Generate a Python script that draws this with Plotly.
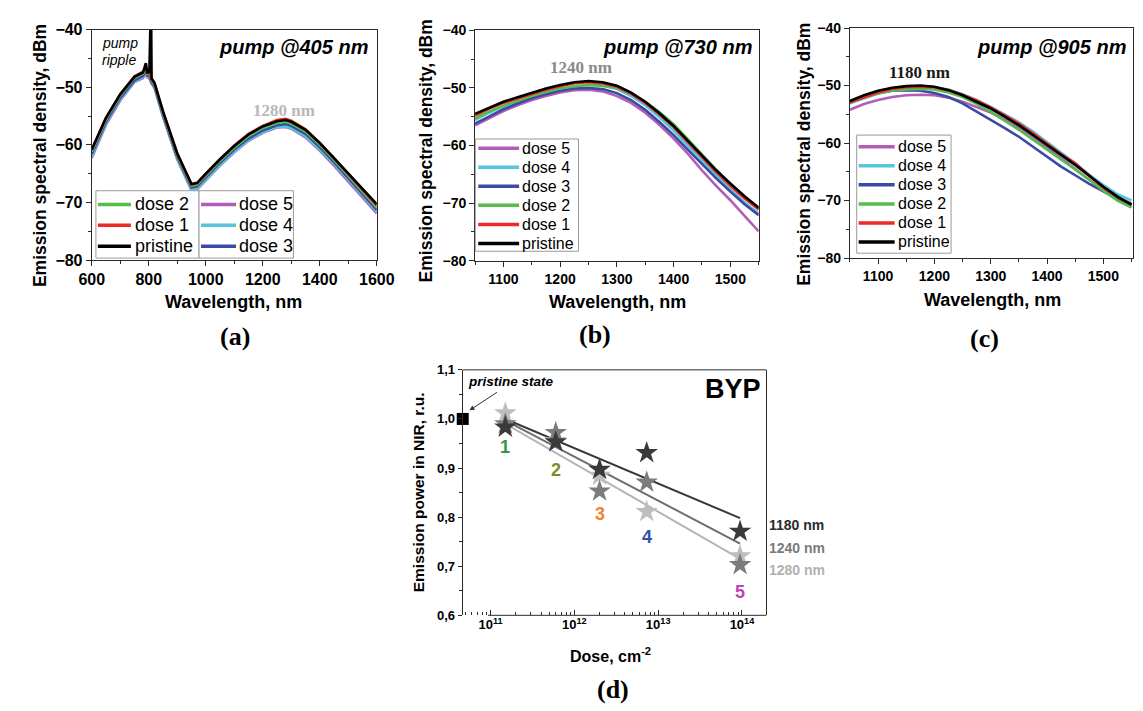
import math
import plotly.graph_objects as go

W, H = 1143, 711
ARIAL = "Arial, 'Liberation Sans', Helvetica, sans-serif"
TIMES = "'Times New Roman', 'Liberation Serif', serif"

# ---------------- data ----------------
series_names = ["dose 5", "dose 4", "dose 3", "dose 2", "dose 1", "pristine"]
series_colors = ["#B25EB9", "#55C6DC", "#3A4AA5", "#56BC4A", "#EC2A26", "#000000"]

# panel (a): pump @405 nm
wl_a = [600, 650, 700, 750, 780, 790, 795, 800, 802, 804, 808, 810, 820, 850, 900, 950, 970,
        1000, 1050, 1100, 1150, 1200, 1250, 1280, 1300, 1350, 1400, 1450, 1500, 1550, 1600]
a_pristine = [-60.8, -55.3, -51.2, -48.2, -47.4, -45.8, -47.6, -47.2, -47.5, -35.0, -35.0, -48.5, -49.2,
              -54.2, -61.5, -66.8, -66.6, -65.0, -62.5, -60.2, -58.2, -56.8, -55.9, -55.7, -56.0, -57.4,
              -59.7, -62.3, -65.0, -67.6, -70.3]
a_dose1 = [-60.9, -55.3, -51.2, -48.1, -47.3, -46.5, -47.6, -47.3, -47.6, -47.8, -48.2, -48.6, -49.3,
           -54.2, -61.5, -66.9, -66.7, -65.1, -62.5, -60.1, -58.1, -56.7, -55.7, -55.5, -55.8, -57.3,
           -59.6, -62.3, -65.1, -67.8, -70.5]
a_dose2 = [-61.2, -55.6, -51.4, -48.4, -47.6, -46.7, -47.8, -47.5, -47.8, -48.0, -48.4, -48.8, -49.5,
           -54.5, -61.8, -67.1, -66.9, -65.3, -62.8, -60.5, -58.5, -57.1, -56.2, -56.0, -56.3, -57.7,
           -60.0, -62.6, -65.4, -68.2, -70.9]
a_dose3 = [-61.6, -56.0, -51.8, -48.8, -48.0, -47.0, -48.1, -47.8, -48.1, -48.3, -48.7, -49.1, -49.8,
           -54.8, -62.1, -67.4, -67.2, -65.6, -63.1, -60.8, -58.9, -57.5, -56.6, -56.4, -56.7, -58.1,
           -60.4, -63.0, -65.8, -68.6, -71.3]
a_dose4 = [-62.0, -56.3, -52.1, -49.0, -48.2, -47.3, -48.3, -48.0, -48.3, -48.5, -48.9, -49.3, -50.0,
           -55.0, -62.4, -67.8, -67.6, -66.0, -63.5, -61.2, -59.2, -57.8, -56.9, -56.8, -57.1, -58.5,
           -60.8, -63.3, -66.1, -68.9, -71.6]
a_dose5 = [-62.3, -56.5, -52.3, -49.1, -48.4, -47.4, -48.4, -48.1, -48.4, -48.6, -49.0, -49.4, -50.1,
           -55.1, -62.5, -67.9, -67.7, -66.1, -63.6, -61.3, -59.3, -57.9, -57.0, -56.9, -57.2, -58.7,
           -61.0, -63.6, -66.4, -69.2, -71.9]

# panels (b) and (c)
wl_bc = [1050, 1075, 1100, 1125, 1150, 1175, 1200, 1225, 1250, 1275, 1300, 1325, 1350, 1375,
         1400, 1425, 1450, 1475, 1500, 1525, 1550]
b_pristine = [-54.5, -53.4, -52.4, -51.6, -50.8, -50.1, -49.5, -49.0, -48.8, -49.0, -49.6, -50.8, -52.4,
              -54.4, -56.6, -59.2, -61.8, -64.3, -66.6, -68.8, -70.8]
b_dose1 = [-54.8, -53.6, -52.6, -51.8, -51.0, -50.3, -49.7, -49.2, -49.0, -49.2, -49.8, -51.0, -52.6,
           -54.6, -56.8, -59.4, -62.0, -64.6, -67.0, -69.2, -71.1]
b_dose2 = [-55.3, -54.1, -53.1, -52.2, -51.4, -50.7, -50.1, -49.7, -49.5, -49.6, -50.0, -51.0, -52.4,
           -54.2, -56.3, -58.9, -61.6, -64.2, -66.7, -69.0, -71.0]
b_dose3 = [-56.2, -54.9, -53.7, -52.7, -51.8, -51.1, -50.5, -50.1, -50.0, -50.2, -50.9, -52.1, -53.8,
           -55.9, -58.2, -60.7, -63.2, -65.7, -68.0, -70.2, -72.1]
b_dose4 = [-55.6, -54.3, -53.2, -52.3, -51.5, -50.8, -50.2, -49.7, -49.5, -49.6, -50.2, -51.4, -53.0,
           -55.1, -57.4, -60.0, -62.6, -65.2, -67.6, -69.9, -71.8]
b_dose5 = [-56.5, -55.2, -54.0, -53.0, -52.1, -51.4, -50.8, -50.4, -50.3, -50.6, -51.4, -52.6, -54.3,
           -56.4, -58.8, -61.4, -64.3, -67.0, -69.5, -72.2, -74.9]

c_pristine = [-52.7, -51.7, -50.9, -50.4, -50.1, -50.0, -50.2, -50.8, -51.7, -52.8, -54.0, -55.4, -56.9,
              -58.6, -60.3, -62.0, -63.8, -65.7, -67.6, -69.3, -70.7]
c_dose1 = [-52.9, -52.0, -51.2, -50.6, -50.3, -50.2, -50.3, -50.8, -51.6, -52.6, -53.8, -55.2, -56.6,
           -58.3, -60.1, -61.9, -63.5, -65.6, -67.8, -69.4, -70.6]
c_dose2 = [-53.0, -52.1, -51.4, -50.9, -50.7, -50.6, -50.7, -51.2, -52.0, -53.2, -54.6, -56.1, -57.7,
           -59.4, -61.1, -62.8, -64.6, -66.4, -68.3, -70.0, -71.2]
c_dose3 = [-52.9, -52.0, -51.3, -50.9, -50.8, -50.9, -51.3, -52.0, -53.1, -54.5, -56.0, -57.4, -58.9,
           -60.6, -62.4, -64.1, -65.6, -67.1, -68.4, -69.8, -70.8]
c_dose4 = [-53.1, -52.2, -51.4, -50.8, -50.5, -50.3, -50.3, -50.7, -51.5, -52.5, -53.7, -55.0, -56.4,
           -58.0, -59.8, -61.6, -63.5, -65.5, -67.3, -68.9, -70.0]
c_dose5 = [-54.2, -53.2, -52.5, -52.0, -51.7, -51.6, -51.7, -52.1, -52.8, -53.7, -54.7, -55.9, -57.3,
           -58.9, -60.7, -62.6, -64.5, -66.4, -68.2, -69.9, -71.2]

# panel (d): BYP emission power vs dose
doses = [1.5e11, 6e11, 2e12, 7.3e12, 9.5e13]
dose_labels = ["1", "2", "3", "4", "5"]
dose_label_colors = ["#2E9A3C", "#7F8B2B", "#F08232", "#3550A8", "#C043B4"]
dose_label_y = [0.942, 0.897, 0.807, 0.760, 0.647]
nir_names = ["1280 nm", "1240 nm", "1180 nm"]
nir_colors = ["#BEBEBE", "#7C7C7C", "#3A3A3A"]
nir_line_colors = ["#B4B4B4", "#6E6E6E", "#383838"]
nir_1280 = [1.012, 0.955, 0.885, 0.811, 0.721]
nir_1240 = [0.990, 0.972, 0.853, 0.871, 0.703]
nir_1180 = [0.983, 0.953, 0.897, 0.931, 0.771]
fit_start = [0.990, 0.997, 1.000]
fit_end = [0.715, 0.746, 0.798]
pristine_dose = [4.65e10]
pristine_value = [1.0]

y_ticks_d = [0.6, 0.7, 0.8, 0.9, 1.0, 1.1]
y_ticktext_d = ["0,6", "0,7", "0,8", "0,9", "1,0", "1,1"]
x_ticks_d = [1e11, 1e12, 1e13, 1e14]
x_ticktext_d = ["10<sup>11</sup>", "10<sup>12</sup>", "10<sup>13</sup>", "10<sup>14</sup>"]


def px(x):
    return x / W


def py(y):
    return 1 - y / H


fig = go.Figure()

panels = [
    ("x", "y", wl_a, [a_dose5, a_dose4, a_dose3, a_dose2, a_dose1, a_pristine]),
    ("x2", "y2", wl_bc, [b_dose5, b_dose4, b_dose3, b_dose2, b_dose1, b_pristine]),
    ("x3", "y3", wl_bc, [c_dose5, c_dose4, c_dose3, c_dose2, c_dose1, c_pristine]),
]
for xa, ya, wl, vals in panels:
    for name, color, v in zip(series_names, series_colors, vals):
        fig.add_trace(go.Scatter(x=wl, y=v, mode="lines", name=name, showlegend=False,
                                 line=dict(color=color, width=2.6), xaxis=xa, yaxis=ya))

# panel (d) fit lines
for k in range(3):
    fig.add_trace(go.Scatter(x=[doses[0], doses[-1]], y=[fit_start[k], fit_end[k]], mode="lines",
                             line=dict(color=nir_line_colors[k], width=2), showlegend=False,
                             xaxis="x4", yaxis="y4", name=nir_names[k] + " fit"))
for k, vals in enumerate([nir_1280, nir_1240, nir_1180]):
    fig.add_trace(go.Scatter(x=doses, y=vals, mode="markers", name=nir_names[k], showlegend=False,
                             marker=dict(symbol="star", size=17, color=nir_colors[k],
                                         line=dict(width=0)),
                             xaxis="x4", yaxis="y4"))
fig.add_trace(go.Scatter(x=pristine_dose, y=pristine_value, mode="markers", name="pristine state",
                         showlegend=False, cliponaxis=False,
                         marker=dict(symbol="square", size=12, color="black"),
                         xaxis="x4", yaxis="y4"))

AX = "#2a2a2a"


def axis_style(**kw):
    d = dict(showline=True, linecolor=AX, linewidth=1, mirror=True, ticks="outside", ticklen=5,
             tickwidth=1, tickcolor=AX, showgrid=False, zeroline=False, fixedrange=True,
             tickfont=dict(family=ARIAL, size=14, color="black", weight="bold"))
    d.update(kw)
    return d


minor_lin = lambda dt: dict(dtick=dt, ticks="outside", ticklen=3, tickcolor=AX, tickwidth=1, showgrid=False)

log_minor = [k * 10 ** e for e in range(10, 15) for k in range(2, 10)]

fig.update_layout(
    width=W, height=H, margin=dict(l=0, r=0, t=0, b=0),
    paper_bgcolor="white", plot_bgcolor="white", showlegend=False,
    xaxis=axis_style(domain=[px(72.7), px(365.7)], range=[600, 1600], dtick=200, anchor="y",
                     minor=minor_lin(100), tickfont=dict(family=ARIAL, size=16, color="black", weight="bold")),
    yaxis=axis_style(domain=[py(250), py(14)], range=[-80, -40], dtick=10, anchor="x",
                     minor=minor_lin(5), tickfont=dict(family=ARIAL, size=16, color="black", weight="bold")),
    xaxis2=axis_style(domain=[px(466.7), px(758.3)], range=[1050, 1550], dtick=100, anchor="y2",
                      minor=minor_lin(50)),
    yaxis2=axis_style(domain=[py(250.7), py(14.7)], range=[-80, -40], dtick=10, anchor="x2",
                      minor=minor_lin(5)),
    xaxis3=axis_style(domain=[px(852), 1.0], range=[1050, 1552.6], dtick=100, anchor="y3",
                      minor=minor_lin(50)),
    yaxis3=axis_style(domain=[py(248), py(12.3)], range=[-80, -40], dtick=10, anchor="x3",
                      minor=minor_lin(5)),
    xaxis4=axis_style(domain=[px(454), px(766)], type="log", range=[10.667, 14.29], anchor="y4",
                      showline=False, mirror=False, ticks="inside", ticklen=5,
                      tickvals=x_ticks_d, ticktext=x_ticktext_d,
                      minor=dict(tickvals=log_minor, ticks="inside", ticklen=3, tickcolor=AX),
                      tickfont=dict(family=ARIAL, size=13, color="black", weight="bold")),
    yaxis4=axis_style(domain=[py(614), py(362.5)], range=[0.6, 1.1], anchor="x4",
                      tickvals=y_ticks_d, ticktext=y_ticktext_d, minor=minor_lin(0.05), ticklen=4,
                      tickfont=dict(family=ARIAL, size=13, color="black", weight="bold")),
)

shapes = []
# frame top / bottom for panel (d)
shapes.append(dict(type="line", xref="x4 domain", yref="y4 domain", x0=0, x1=1, y0=1, y1=1,
                   line=dict(color=AX, width=1)))
shapes.append(dict(type="line", xref="x4 domain", yref="y4 domain", x0=(480 - 454) / 312, x1=1, y0=0, y1=0,
                   line=dict(color=AX, width=1)))

annotations = []


def ann(text, x, y, size, color="black", family=ARIAL, xanchor="center", yanchor="middle", angle=0):
    annotations.append(dict(text=text, x=px(x), y=py(y), xref="paper", yref="paper", showarrow=False,
                            font=dict(family=family, size=size, color=color), xanchor=xanchor,
                            yanchor=yanchor, textangle=angle, borderpad=0))


# manual legends (box + sample line + label)
def legend_box(x0, y0, x1, y1, entries, rows_y, lx0, lx1, tx, size):
    shapes.append(dict(type="rect", xref="paper", yref="paper", x0=px(x0), x1=px(x1), y0=py(y1), y1=py(y0),
                       line=dict(color="#9a9a9a", width=1), fillcolor="white", layer="above"))
    for (name, color), ry in zip(entries, rows_y):
        shapes.append(dict(type="line", xref="paper", yref="paper", x0=px(lx0), x1=px(lx1), y0=py(ry), y1=py(ry),
                           line=dict(color=color, width=3.5), layer="above"))
        ann(name, tx, ry, size, xanchor="left")


col = dict(zip(series_names, series_colors))
legend_box(77, 179, 183, 248, [(n, col[n]) for n in ["dose 2", "dose 1", "pristine"]],
           [193, 214.5, 236], 79, 113, 116, 18)
legend_box(183, 179, 280, 248, [(n, col[n]) for n in ["dose 5", "dose 4", "dose 3"]],
           [193, 214.5, 236], 185, 221, 223, 18)
legend_box(467, 126, 573, 241, [(n, col[n]) for n in series_names],
           [135.5 + 19.5 * i for i in range(6)], 470, 512, 514, 16)
legend_box(859, 122, 956, 243, [(n, col[n]) for n in series_names],
           [134 + 19.5 * i for i in range(6)], 861, 898, 900, 16)

# panel titles
ann("<b><i>pump @405 nm</i></b>", 358, 32, 20, xanchor="right")
ann("<b><i>pump @730 nm</i></b>", 752, 32, 20, xanchor="right")
ann("<b><i>pump @905 nm</i></b>", 1137, 32, 20, xanchor="right")
ann("<i>pump</i>", 82, 28, 14, xanchor="left")
ann("<i>ripple</i>", 82, 45, 14, xanchor="left")

# peak labels (data coordinates)
annotations.append(dict(text="<b>1280 nm</b>", x=1275, y=-54.1, xref="x", yref="y", showarrow=False,
                        font=dict(family=TIMES, size=17, color="#B8B8B8")))
annotations.append(dict(text="<b>1240 nm</b>", x=1236, y=-46.5, xref="x2", yref="y2", showarrow=False,
                        font=dict(family=TIMES, size=17, color="#8A8A8A")))
annotations.append(dict(text="<b>1180 nm</b>", x=1173, y=-47.7, xref="x3", yref="y3", showarrow=False,
                        font=dict(family=TIMES, size=17, color="#1a1a1a")))

# axis titles
ann("<b>Emission spectral density, dBm</b>", 19, 143, 17.5, angle=-90)
ann("<b>Emission spectral density, dBm</b>", 416, 138, 17.5, angle=-90)
ann("<b>Emission spectral density, dBm</b>", 804, 142, 17.5, angle=-90)
ann("<b>Wavelength, nm</b>", 218, 293, 18)
ann("<b>Wavelength, nm</b>", 613, 293, 18)
ann("<b>Wavelength, nm</b>", 999, 291, 18)
ann("<b>Emission power in NIR, r.u.</b>", 408, 488, 15.5, angle=-90)
ann("<b>Dose, cm<sup>-2</sup></b>", 606, 655, 16)

# panel letters
ann("<b>(a)</b>", 220, 328, 26, family=TIMES)
ann("<b>(b)</b>", 590, 326, 26, family=TIMES)
ann("<b>(c)</b>", 990, 330, 26, family=TIMES)
ann("<b>(d)</b>", 609, 690, 26, family=TIMES)

# panel (d) texts
ann("<b>BYP</b>", 732, 382, 27)
ann("<b><i>pristine state</i></b>", 504, 374, 13.5)
annotations.append(dict(text="", x=px(461), y=py(404), xref="paper", yref="paper", showarrow=True,
                        ax=29, ay=-19, arrowhead=2, arrowsize=1, arrowwidth=1, arrowcolor="#333"))
for d, lab, c, yv in zip(doses, dose_labels, dose_label_colors, dose_label_y):
    annotations.append(dict(text=f"<b>{lab}</b>", x=math.log10(d), y=yv, xref="x4", yref="y4",
                            showarrow=False, font=dict(family=ARIAL, size=18, color=c)))
for name, c, yy in zip(["1180 nm", "1240 nm", "1280 nm"], ["#2b2b2b", "#7a7a7a", "#b0b0b0"], [521, 545, 568]):
    ann(f"<b>{name}</b>", 768, yy, 14, color=c, xanchor="left")

fig.update_layout(shapes=shapes, annotations=annotations)
fig.write_html("out.html")
